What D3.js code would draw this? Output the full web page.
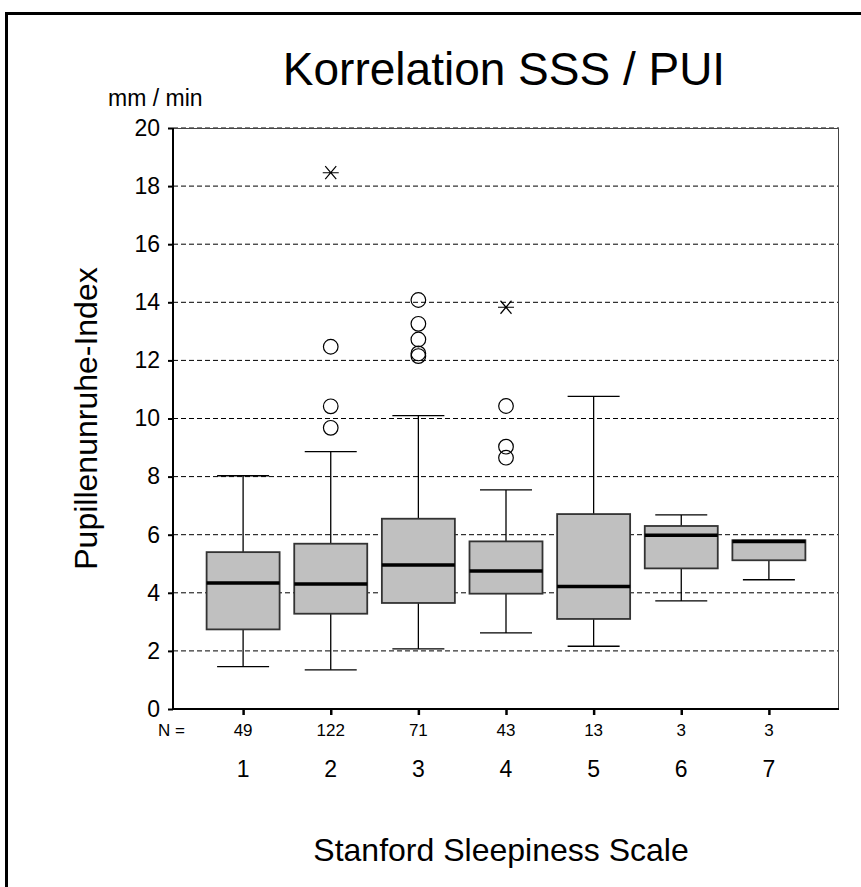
<!DOCTYPE html>
<html>
<head>
<meta charset="utf-8">
<script src="https://cdn.jsdelivr.net/npm/d3@7"></script>
<style>
  body { margin: 0; background: #fff; }
  text { font-family: Arial, 'Liberation Sans', sans-serif; fill: #000; }
</style>
</head>
<body>
<div id="chart"></div>
<script>
// Stanford Sleepiness Scale groups
let categories = [1, 2, 3, 4, 5, 6, 7]
let nValues = [49, 122, 71, 43, 13, 3, 3]

// box plot statistics (mm / min)
let lowerWhisker = [1.46, 1.35, 2.07, 2.62, 2.16, 3.72, 4.45]
let q1 = [2.74, 3.28, 3.65, 3.97, 3.1, 4.84, 5.12]
let median = [4.34, 4.3, 4.96, 4.75, 4.22, 5.98, 5.77]
let q3 = [5.4, 5.69, 6.55, 5.77, 6.71, 6.3, 5.81]
let upperWhisker = [8.03, 8.86, 10.1, 7.54, 10.76, 6.68, 5.81]

// outliers (circles) and extremes (stars)
let outliers = [[], [9.68, 10.42, 12.47], [12.15, 12.24, 12.72, 13.26, 14.08], [8.65, 9.03, 10.43], [], [], []]
let extremes = [[], [18.46], [], [13.83], [], [], []]

let yTicks = [0, 2, 4, 6, 8, 10, 12, 14, 16, 18, 20]

let margin = { top: 128, left: 173, right: 22, bottom: 178 }
let width = 861 - margin.left - margin.right
let height = 887 - margin.top - margin.bottom

let root = d3
  .select('#chart')
  .append('svg')
  .attr('width', 861)
  .attr('height', 887)

// outer frame (runs off the right and bottom edge)
root
  .append('rect')
  .attr('x', 6.5)
  .attr('y', 13.5)
  .attr('width', 900)
  .attr('height', 900)
  .attr('fill', 'none')
  .attr('stroke', '#000')
  .attr('stroke-width', 3)

let svg = root
  .append('g')
  .attr('transform', 'translate(' + margin.left + ',' + margin.top + ')')

let xPositionScale = d3.scaleLinear().domain([0.2, 7.8]).range([0, width])
let yPositionScale = d3.scaleLinear().domain([0, 20]).range([height, 0])

let boxes = categories.map((c, i) => ({
  cat: c,
  n: nValues[i],
  lw: lowerWhisker[i],
  q1: q1[i],
  med: median[i],
  q3: q3[i],
  uw: upperWhisker[i],
  out: outliers[i],
  ext: extremes[i]
}))

// dashed grid lines
svg
  .selectAll('.grid')
  .data(yTicks.filter(d => d > 0))
  .enter()
  .append('line')
  .attr('class', 'grid')
  .attr('x1', 0)
  .attr('x2', width)
  .attr('y1', d => yPositionScale(d))
  .attr('y2', d => yPositionScale(d))
  .attr('stroke', '#000')
  .attr('stroke-width', 1)
  .attr('stroke-dasharray', '5,3')

// thin top / right frame
svg
  .append('path')
  .attr('d', 'M0,0.5H' + (width - 0.5) + 'V' + height)
  .attr('fill', 'none')
  .attr('stroke', '#444')
  .attr('stroke-width', 1)

let yAxis = d3.axisLeft(yPositionScale).tickValues(yTicks).tickSize(5).tickPadding(8)
let yG = svg.append('g').attr('class', 'axis y-axis').call(yAxis)
yG.select('.domain').remove()
yG.selectAll('line').attr('stroke', '#000').attr('stroke-width', 2)
yG.selectAll('text').attr('font-size', 23).attr('font-family', 'Arial, Liberation Sans, sans-serif')

let xAxis = d3.axisBottom(xPositionScale).tickValues(categories).tickSize(6).tickFormat('')
let xG = svg
  .append('g')
  .attr('class', 'axis x-axis')
  .attr('transform', 'translate(0,' + height + ')')
  .call(xAxis)
xG.select('.domain').remove()
xG.selectAll('line').attr('stroke', '#000').attr('stroke-width', 2.5)

// axis lines
svg
  .append('line')
  .attr('x1', 0)
  .attr('x2', 0)
  .attr('y1', 0)
  .attr('y2', height + 1)
  .attr('stroke', '#000')
  .attr('stroke-width', 2)
svg
  .append('line')
  .attr('x1', -1)
  .attr('x2', width)
  .attr('y1', height)
  .attr('y2', height)
  .attr('stroke', '#000')
  .attr('stroke-width', 2)

let boxHalf = 36.5
let capHalf = 26

let groups = svg
  .selectAll('.box')
  .data(boxes)
  .enter()
  .append('g')
  .attr('class', 'box')
  .attr('transform', d => 'translate(' + xPositionScale(d.cat) + ',0)')

// whiskers
groups
  .append('line')
  .attr('y1', d => yPositionScale(d.lw))
  .attr('y2', d => yPositionScale(d.uw))
  .attr('stroke', '#000')
  .attr('stroke-width', 1.3)
groups
  .append('line')
  .attr('x1', -capHalf)
  .attr('x2', capHalf)
  .attr('y1', d => yPositionScale(d.lw))
  .attr('y2', d => yPositionScale(d.lw))
  .attr('stroke', '#000')
  .attr('stroke-width', 1.3)
groups
  .filter(d => d.uw > d.q3)
  .append('line')
  .attr('x1', -capHalf)
  .attr('x2', capHalf)
  .attr('y1', d => yPositionScale(d.uw))
  .attr('y2', d => yPositionScale(d.uw))
  .attr('stroke', '#000')
  .attr('stroke-width', 1.3)

groups
  .append('rect')
  .attr('x', -boxHalf)
  .attr('width', boxHalf * 2)
  .attr('y', d => yPositionScale(d.q3))
  .attr('height', d => yPositionScale(d.q1) - yPositionScale(d.q3))
  .attr('fill', '#c0c0c0')
  .attr('stroke', '#333')
  .attr('stroke-width', 1.8)

groups
  .append('line')
  .attr('x1', -boxHalf)
  .attr('x2', boxHalf)
  .attr('y1', d => yPositionScale(d.med))
  .attr('y2', d => yPositionScale(d.med))
  .attr('stroke', '#000')
  .attr('stroke-width', 3.5)

groups
  .selectAll('.outlier')
  .data(d => d.out)
  .enter()
  .append('circle')
  .attr('class', 'outlier')
  .attr('cy', d => yPositionScale(d))
  .attr('r', 7.3)
  .attr('fill', 'none')
  .attr('stroke', '#000')
  .attr('stroke-width', 1.2)

groups
  .selectAll('.extreme')
  .data(d => d.ext)
  .enter()
  .append('path')
  .attr('class', 'extreme')
  .attr('transform', d => 'translate(0,' + yPositionScale(d) + ')')
  .attr('d', 'M-8,0H8M-5.5,-6.5L5.5,6.5M-5.5,6.5L5.5,-6.5')
  .attr('stroke', '#000')
  .attr('stroke-width', 1.2)
  .attr('fill', 'none')

// N row and category labels
svg
  .append('text')
  .attr('x', 158 - margin.left)
  .attr('y', 736 - margin.top)
  .attr('font-size', 17)
  .text('N =')

svg
  .selectAll('.n-label')
  .data(boxes)
  .enter()
  .append('text')
  .attr('class', 'n-label')
  .attr('x', d => xPositionScale(d.cat))
  .attr('y', 736 - margin.top)
  .attr('text-anchor', 'middle')
  .attr('font-size', 17)
  .text(d => d.n)

svg
  .selectAll('.cat-label')
  .data(boxes)
  .enter()
  .append('text')
  .attr('class', 'cat-label')
  .attr('x', d => xPositionScale(d.cat))
  .attr('y', 777 - margin.top)
  .attr('text-anchor', 'middle')
  .attr('font-size', 23)
  .text(d => d.cat)

// titles
root
  .append('text')
  .attr('x', 504)
  .attr('y', 85)
  .attr('text-anchor', 'middle')
  .attr('font-size', 46)
  .text('Korrelation SSS / PUI')

root
  .append('text')
  .attr('x', 108)
  .attr('y', 106)
  .attr('font-size', 23)
  .text('mm / min')

root
  .append('text')
  .attr('transform', 'translate(97,' + (margin.top + height / 2) + ') rotate(-90)')
  .attr('text-anchor', 'middle')
  .attr('font-size', 32)
  .text('Pupillenunruhe-Index')

root
  .append('text')
  .attr('x', 501)
  .attr('y', 861)
  .attr('text-anchor', 'middle')
  .attr('font-size', 32)
  .text('Stanford Sleepiness Scale')
</script>
</body>
</html>
